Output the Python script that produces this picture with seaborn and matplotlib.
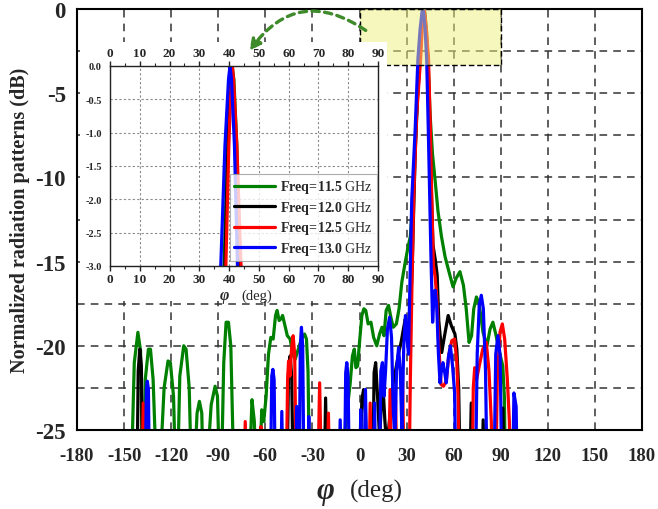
import matplotlib
matplotlib.use("Agg")
import numpy as np
import pandas as pd
import matplotlib.pyplot as plt
import seaborn as sns
from matplotlib.patches import Rectangle, FancyArrowPatch
from matplotlib.ticker import MultipleLocator, FormatStrFormatter
from matplotlib.lines import Line2D

# ---------------- data (angle deg, normalized dB) ----------------
freq_labels = ["11.5", "12.0", "12.5", "13.0"]
line_colors = ["#008000", "#000000", "#ff0000", "#0000ff"]

green_115 = [
    (-146, -30), (-143.5, -21), (-141.2, -19.2), (-139.5, -20.3), (-137.8, -30),
    (-136.5, -22), (-134.5, -20.2), (-133.2, -20.2), (-131.5, -22), (-128.5, -30),
    (-124.5, -22.5), (-122, -20.9), (-120.5, -21), (-118.5, -23), (-116.5, -30),
    (-114.5, -21.8), (-112, -20.0), (-110.5, -20.2), (-108.5, -22.5), (-106.5, -30),
    (-103.5, -24), (-102, -23.3), (-100.5, -24), (-99, -30),
    (-94.5, -23.5), (-92, -22.4), (-90.5, -23), (-88.5, -30),
    (-86.5, -21), (-85, -18.6), (-83.5, -18.6), (-82, -20), (-79.5, -30),
    (-70, -27), (-68.5, -23.2), (-67, -24.5), (-65.5, -30),
    (-63.5, -27), (-62.3, -23.8), (-61, -24.5), (-59.5, -23), (-58, -20.5), (-56.5, -19.5),
    (-55, -19.6), (-53.5, -18.2), (-52.5, -17.9), (-51.2, -18.5), (-50, -18.4), (-49, -18.2),
    (-47.5, -18.8), (-46, -19.4), (-44.2, -19.6), (-42.5, -20.5), (-41, -20.8), (-39, -20.2),
    (-37, -19.6), (-35, -19.3), (-33.8, -19.6), (-32.8, -21.5), (-31.5, -30),
    (-11, -30), (-8.8, -24.2), (-7.5, -23.5), (-6, -22.3), (-4.5, -20.6), (-3.3, -20.2),
    (-2.3, -21.3), (-1.2, -21.2), (0, -19.8), (1.5, -18.2), (2.8, -17.8), (4, -17.9),
    (5.5, -18.7), (7.3, -18.6), (9, -19.5), (11, -20), (12.8, -19.3), (14.3, -18.9),
    (15.6, -19.4), (17, -17.9), (18.5, -17.6), (20.2, -18.4), (21.5, -18.9), (23.5, -18.7),
    (25.2, -17.8), (27, -16.2), (29.2, -15.0), (31, -14.1), (32.4, -13.5), (33.8, -11.5),
    (35.2, -8.6), (36.8, -5.4), (38.3, -3.0), (39.4, -1.2), (40.4, -0.2), (41, 0.0),
    (41.6, -0.2), (42.6, -1.2), (43.6, -3.0), (45, -6.3), (46.5, -8.6), (48.2, -10.2),
    (50, -12), (52.2, -13.5), (54.5, -14.7), (57, -15.6), (59.6, -16.5), (61.5, -16.0),
    (64, -15.6), (66.2, -16.4), (68, -17.8), (69.8, -19.8), (71.4, -19.4), (72.8, -17.8),
    (74.5, -17.1), (76.2, -17.5), (78.7, -19.2), (81.2, -20.0), (83.2, -19.0), (85, -18.6),
    (86.8, -19.3), (89.5, -20.5), (91.3, -21.2), (92.3, -23), (93.3, -30),
]

black_120 = [
    (-142, -30), (-141, -21.5), (-140, -20.2), (-139, -21.2), (-137.8, -30),
    (-46.5, -30), (-45.2, -21.5), (-44.2, -20.6), (-43.2, -21.8), (-42, -30),
    (-22.8, -30), (-21.6, -23.1), (-20.3, -30),
    (-0.5, -30), (1.5, -23.2), (2.6, -22.6), (3.8, -24), (5, -30),
    (8.2, -30), (9.3, -21.6), (10.3, -21.0), (11.5, -23), (12.8, -25.5), (14.2, -23),
    (15.2, -22.8), (16.2, -24.5), (17.5, -26), (19.5, -24), (21.5, -22.2), (23.5, -21.2),
    (25, -20.4), (26.5, -19.8), (28, -19), (29.2, -18.4), (30.3, -19.4), (31.5, -18.7),
    (32.5, -18.0), (33.5, -15.5), (34.5, -12), (35.5, -8.5), (37, -5.2), (38.6, -3.0),
    (39.6, -1.2), (40.5, -0.2), (40.9, 0.0), (41.3, -0.2), (42.3, -1.2), (43.6, -3.0),
    (44.7, -6.5), (45.7, -10.5), (46.8, -14), (48.3, -14.9), (49.5, -15.8), (50.5, -18.5),
    (52.4, -20.4), (54, -19.5), (56.5, -18.2), (58.5, -18.8), (60.8, -19.3), (62, -20.2),
    (63.2, -22.5), (64.5, -30),
    (69.8, -30), (71.2, -23.4), (72.6, -30),
    (77.6, -30), (78.8, -24.4), (80, -30),
    (90, -30), (91.4, -23.7), (92.8, -30),
]

red_125 = [
    (-139, -30), (-137.8, -23.4), (-136.6, -30),
    (-74, -30), (-72.8, -24.5), (-71.6, -30),
    (-63.8, -30), (-62.8, -24.8), (-61.8, -30),
    (-47, -30), (-45.8, -22), (-45.2, -20.9), (-44.3, -21.8), (-43.3, -20.2), (-42.3, -19.4),
    (-41.3, -20.5), (-40, -30),
    (-27, -30), (-25.4, -22.2), (-23.8, -30),
    (-21, -30), (-19.8, -24), (-18.6, -30),
    (5.6, -30), (6.8, -23.4), (8, -30),
    (18.2, -30), (19.5, -22.6), (20.8, -30),
    (21.8, -30), (23, -23.2), (24.2, -30),
    (26, -30), (27.4, -21.6), (28.8, -30),
    (31.3, -30), (32.4, -22), (33.4, -16.5), (34.6, -11), (36.4, -6.3), (38.9, -3.0),
    (39.9, -1.2), (40.7, -0.2), (41.1, 0.0), (41.5, -0.2), (42.6, -1.2), (44.0, -3.0),
    (45.1, -7), (46.1, -11.5), (47.1, -15.2), (48.2, -15.9), (49.3, -17.2), (50.5, -20),
    (52, -22.3), (53.5, -22.4), (55.3, -22.1), (57, -20.5), (58.8, -19.7), (60.6, -19.6),
    (62, -21), (62.8, -23), (63.8, -30),
    (71.6, -30), (72.5, -22.5), (73.4, -21.3), (74.6, -22), (76.3, -21.2), (78.5, -20.2),
    (80.8, -19.8), (82.5, -21.5), (84, -24.5), (84.8, -30),
    (86.5, -30), (87.8, -22), (89.5, -19.2), (91, -18.7), (92.5, -19.6), (94.2, -22),
    (95.5, -24.5), (96.5, -30),
]

blue_130 = [
    (-136.8, -30), (-135.8, -22.6), (-135.2, -22.1), (-134.5, -22.6), (-133.6, -30),
    (-57, -30), (-55.9, -21.8), (-55.2, -21.4), (-54.4, -22), (-53.4, -30),
    (-50.6, -30), (-49.5, -23.9), (-48.4, -30),
    (-41, -30), (-40, -23.6), (-39.2, -30),
    (-38.6, -30), (-37.7, -20), (-37, -18.9), (-36.2, -20), (-35.2, -30),
    (-33.2, -30), (-32.3, -24.2), (-31.4, -30),
    (-13.6, -30), (-12.3, -24.4), (-11, -30),
    (-9.8, -30), (-8.8, -21.6), (-8.1, -21), (-7.3, -21.8), (-6.2, -30),
    (-0.2, -30), (0.8, -23.8), (1.8, -30),
    (2.4, -30), (3.8, -22.6), (5.2, -30),
    (8.6, -30), (9.6, -23.4), (10.6, -30),
    (12.4, -30), (13.6, -21.5), (14.6, -21), (15.6, -23), (16.6, -21.5), (17.8, -19),
    (19.2, -18.3), (20.4, -19.5), (21.6, -24), (22.6, -25.5), (23.6, -21.5), (24.9, -20.1),
    (26, -21.5), (27, -25), (28.2, -20), (29.3, -18.2), (30.3, -19.5), (31.2, -20.5),
    (32.2, -16), (33.3, -11.3), (35.4, -7.3), (37.2, -3.0), (38.6, -1.2), (39.8, -0.2),
    (40.3, 0.0), (40.8, -0.2), (41.8, -1.2), (42.8, -3.0), (43.8, -7), (44.7, -11),
    (45.6, -15), (46.6, -18.6), (47.4, -17.2), (48.2, -16.7), (49.2, -17.6), (50.3, -20.5),
    (51.3, -22.2), (52.3, -21.4), (53.2, -21), (54.3, -21.6), (55.3, -22.2), (56.6, -20.7),
    (57.9, -20), (59.3, -21.2), (60.6, -22.8), (61.7, -30),
    (73.6, -30), (75, -20.5), (76.3, -17.6), (77.6, -17.0), (78.9, -17.8), (80.3, -21.5),
    (81.6, -30),
    (85.4, -30), (86.8, -20.5), (88.2, -19.4), (89.6, -20.6), (91, -30),
    (97.2, -30), (98.4, -22.8), (99.8, -23.6), (100.9, -30),
]

x_ticks_main = [-180, -150, -120, -90, -60, -30, 0, 30, 60, 90, 120, 150, 180]
y_ticks_main = [-25, -20, -15, -10, -5, 0]
x_ticks_inset = [0, 10, 20, 30, 40, 50, 60, 70, 80, 90]
y_ticks_inset = [-3.0, -2.5, -2.0, -1.5, -1.0, -0.5, 0.0]

# ---------------- build table ----------------
frames = []
for lab, pts in zip(freq_labels, [green_115, black_120, red_125, blue_130]):
    d = pd.DataFrame(pts, columns=["phi", "db"])
    d["freq"] = lab
    frames.append(d)
df = pd.concat(frames, ignore_index=True)
palette = dict(zip(freq_labels, line_colors))

# ---------------- style ----------------
sns.set_theme(style="white")
plt.rcParams["font.family"] = ["Liberation Serif", "DejaVu Serif"]
plt.rcParams["mathtext.fontset"] = "custom"
plt.rcParams["mathtext.rm"] = "Liberation Serif"
plt.rcParams["mathtext.bf"] = "Liberation Serif:bold"
plt.rcParams["mathtext.it"] = "Liberation Serif:italic"
plt.rcParams["axes.unicode_minus"] = False
plt.rcParams["axes.linewidth"] = 1.5

fig = plt.figure(figsize=(6.58, 5.10), dpi=100)
W, H = 658.0, 510.0

# main axes
ax = fig.add_axes([77 / W, 1 - 431 / H, (642 - 77) / W, (431 - 10) / H])
ax.set_zorder(0)
sns.lineplot(data=df, x="phi", y="db", hue="freq", palette=palette, sort=False,
             estimator=None, linewidth=2.3, legend=False, ax=ax)
ax.set_xlim(-180, 180)
ax.set_ylim(-25, 0)
ax.set_xticks(x_ticks_main)
ax.set_yticks(y_ticks_main)
ax.xaxis.set_minor_locator(MultipleLocator(15))
ax.yaxis.set_minor_locator(MultipleLocator(2.5))
for s in ax.spines.values():
    s.set_color("black")
    s.set_linewidth(1.5)
ax.tick_params(axis="x", which="major", direction="out", length=6, width=1.5,
               labelsize=13.5, pad=6)
ax.tick_params(axis="x", which="minor", direction="out", length=4, width=1.2)
ax.tick_params(axis="y", which="major", direction="inout", length=10, width=1.5,
               labelsize=16.5, pad=3)
ax.tick_params(axis="y", which="minor", direction="inout", length=7, width=1.2)
for t in ax.get_xticklabels() + ax.get_yticklabels():
    t.set_fontweight("bold")
ax.xaxis.grid(True, which="major", linestyle=(0, (5, 4)), color="#333333", linewidth=1.1)
ax.yaxis.grid(True, which="both", linestyle=(0, (5, 4)), color="#333333", linewidth=1.1)
ax.set_axisbelow(True)
ax.set_xlabel("")
ax.set_ylabel("Normalized radiation patterns (dB)", fontsize=14.5, fontweight="bold")
ax.yaxis.set_label_coords(-0.083, 0.5)

# highlighted region (semi-transparent yellow over main lobe)
ax.add_patch(Rectangle((0, -3.3), 90, 3.3, facecolor="#eef07a", alpha=0.5,
                       edgecolor="none", zorder=5))
ax.add_patch(Rectangle((0, -3.3), 90, 3.3, facecolor="none", edgecolor="black",
                       linestyle=(0, (4, 2)), linewidth=1.0, zorder=6))

# x-axis label as two texts
fig.text(325 / W, 1 - 492 / H, "φ", fontsize=22, fontweight="bold", fontstyle="italic",
         ha="center", va="center")
fig.text(376 / W, 1 - 491 / H, "(deg)", fontsize=18, ha="center", va="center")

# white panel behind inset
fig.add_artist(Rectangle((80 / W, 1 - 302 / H), (387 - 80) / W, (302 - 43) / H,
                         transform=fig.transFigure, facecolor="white",
                         edgecolor="none", zorder=2))

# inset axes
axi = fig.add_axes([110 / W, 1 - 267 / H, (378 - 110) / W, (267 - 67) / H])
axi.set_zorder(3)
axi.set_facecolor("white")
sns.lineplot(data=df, x="phi", y="db", hue="freq", palette=palette, sort=False,
             estimator=None, linewidth=2.3, legend=False, ax=axi)
axi.set_xlim(0, 90)
axi.set_ylim(-3.0, 0.0)
axi.set_xticks(x_ticks_inset)
axi.set_yticks(y_ticks_inset)
axi.xaxis.set_minor_locator(MultipleLocator(5))
axi.yaxis.set_minor_locator(MultipleLocator(0.25))
axi.yaxis.set_major_formatter(FormatStrFormatter("%.1f"))
for s in axi.spines.values():
    s.set_color("#222222")
    s.set_linewidth(1.0)
axi.tick_params(axis="x", which="major", direction="out", length=3.5, width=1.0,
                labelsize=9.5, top=True, labeltop=True, bottom=True, labelbottom=True, pad=1.5)
axi.tick_params(axis="x", which="minor", direction="out", length=2.2, width=0.8,
                top=True, bottom=True)
axi.tick_params(axis="y", which="major", direction="out", length=4, width=1.0,
                labelsize=7.5, pad=2)
axi.tick_params(axis="y", which="minor", direction="in", length=2.5, width=0.8)
for t in axi.get_xticklabels() + axi.get_yticklabels():
    t.set_fontweight("bold")
axi.grid(True, which="major", linestyle=(0, (2, 2)), color="#8a8a8a", linewidth=0.8)
axi.set_axisbelow(True)
axi.set_xlabel("")
axi.set_ylabel("")

handles = [Line2D([0], [0], color=c, linewidth=2.3) for c in line_colors]
labels = [r"$\mathbf{Freq\!=\!%s}$ GHz" % f for f in freq_labels]
leg = axi.legend(handles, labels, loc="lower right", bbox_to_anchor=(0.997, 0.025),
                 fontsize=10, handlelength=2.9, handletextpad=0.4, labelspacing=0.25,
                 borderpad=0.3, borderaxespad=0.0, frameon=True, fancybox=False)
leg.get_frame().set_edgecolor("#999999")
leg.get_frame().set_linewidth(0.8)

fig.text(224 / W, 1 - 296 / H, "φ", fontsize=11.5, fontweight="bold", fontstyle="italic",
         ha="center", va="center", zorder=4)
fig.text(257 / W, 1 - 296 / H, "(deg)", fontsize=10.5, ha="center", va="center", zorder=4)

# curved dashed arrow pointing to the inset
arrow = FancyArrowPatch((368, H - 33), (248, H - 54), transform=None,
                        connectionstyle="arc3,rad=0.5", arrowstyle="-|>",
                        mutation_scale=16, color="#3f8a2a", linewidth=2.4,
                        linestyle=(0, (2.2, 1.6)), zorder=10)
fig.add_artist(arrow)

fig.savefig("out.png", dpi=100)
